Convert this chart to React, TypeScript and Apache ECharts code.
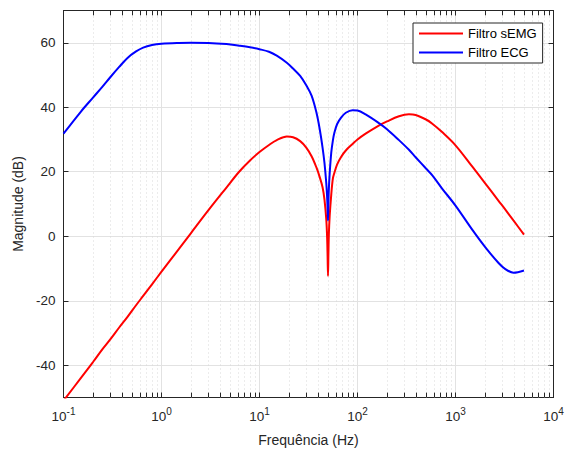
import React, { useEffect, useRef } from "react";
import * as echarts from "echarts";

const freqHz = [
  0.1, 0.15, 0.2, 0.25, 0.3, 0.37, 0.45, 0.55, 0.65, 0.8, 1, 1.5, 2, 3, 4.6, 6.2, 8, 10, 12.5, 15, 19, 22, 26, 30,
  34, 38, 41, 44, 46, 48, 49, 49.5, 50, 50.5, 51, 52, 54, 56, 58, 62, 68, 76, 89, 100, 121, 160, 200, 265, 335, 392,
  500, 580, 730, 1000, 1500, 2000, 2750, 3200, 3900, 5000,
];
const semgDb = [
  -51, -44, -39, -35, -32, -28.3, -25, -21.4, -18.5, -14.9, -11, -4, 1, 8, 15.1, 20, 23.5, 26.1, 28.3, 29.8, 30.9,
  30.7, 29.5, 27.5, 24.8, 21.4, 18.5, 15.2, 11.4, 5.3, -0.5, -6, -12.3, -5.5, 0.5, 6.2, 13, 17.8, 19.6, 22.3, 24.6,
  26.6, 28.6, 30, 31.8, 34.1, 35.6, 37.2, 37.8, 37.6, 36.2, 34.9, 32.3, 28.2, 21.4, 16.5, 11, 8.4, 4.9, 0.5,
];
const ecgDb = [
  31.8, 38.6, 43, 46.4, 49.3, 52.5, 55.3, 57.3, 58.5, 59.3, 59.7, 59.95, 60, 59.95, 59.6, 59.1, 58.6, 58, 57.2, 56,
  53.8, 52, 49.7, 46.8, 43.6, 38.5, 33.5, 27.5, 22.8, 16.5, 12, 8.8, 4.9, 10.3, 14.6, 19.5, 26, 29.6, 32, 34.8, 36.8,
  38.3, 39.1, 39, 37.8, 35.4, 33.2, 29.8, 26.8, 24.5, 21, 18.9, 14.8, 9.5, 1.8, -3.3, -8.3, -10.1, -11.3, -10.6,
];
const seriesNames = ["Filtro sEMG", "Filtro ECG"];
const xExponents = [-1, 0, 1, 2, 3, 4];
const xMin = 0.1;
const xMax = 10000;
const yMin = -50;
const yMax = 70;

const FONT = "'Liberation Sans', Arial, Helvetica, sans-serif";
const AXIS_COLOR = "#262626";

export default function App() {
  const ref = useRef<HTMLDivElement>(null);
  useEffect(() => {
    document.body.style.margin = "0";
    if (!ref.current) return;
    const chart = echarts.init(ref.current, undefined, { renderer: "svg" });

    const minorValues: number[] = [];
    for (let i = 0; i < xExponents.length - 1; i++) {
      for (let k = 2; k <= 9; k++) minorValues.push(k * Math.pow(10, xExponents[i]));
    }
    const tickLen = 1.5;
    const minorGrid: any[] = minorValues.map((v) => ({
      xAxis: v,
      lineStyle: { type: [1, 3], color: "#d8d8d8", width: 1 },
    }));
    const minorTicks: any[] = [];
    minorValues.forEach((v) => {
      minorTicks.push([
        { coord: [v, yMin], lineStyle: { type: "solid", color: AXIS_COLOR, width: 1 } },
        { coord: [v, yMin + tickLen] },
      ]);
      minorTicks.push([
        { coord: [v, yMax], lineStyle: { type: "solid", color: AXIS_COLOR, width: 1 } },
        { coord: [v, yMax - tickLen] },
      ]);
    });

    const expLabel = (v: number) => {
      const e = Math.round(Math.log10(v));
      return `{b|10}{s|${e}}`;
    };

    const axisLineStyle = { show: true, onZero: false, lineStyle: { color: AXIS_COLOR, width: 1 } };
    const tickStyle = { show: true, inside: true, length: 5, lineStyle: { color: AXIS_COLOR } };

    chart.setOption({
      animation: false,
      textStyle: { fontFamily: FONT },
      grid: {
        left: 63.5,
        right: 14.5,
        top: 10.5,
        bottom: 52.5,
        containLabel: false,
        outerBoundsMode: "none",
      },
      legend: {
        data: seriesNames,
        orient: "vertical",
        left: 413,
        top: 23,
        icon: "rect",
        itemWidth: 44,
        itemHeight: 2,
        itemGap: 6,
        padding: [4, 6, 4, 6],
        borderColor: AXIS_COLOR,
        borderWidth: 1,
        backgroundColor: "#fff",
        textStyle: { fontSize: 13, color: "#000", fontFamily: FONT },
        selectedMode: false,
      },
      xAxis: [
        {
          type: "log",
          logBase: 10,
          min: xMin,
          max: xMax,
          position: "bottom",
          axisLine: axisLineStyle,
          axisTick: tickStyle,
          axisLabel: {
            margin: 9,
            formatter: expLabel,
            rich: {
              b: { fontSize: 13.5, color: AXIS_COLOR, fontFamily: FONT },
              s: { fontSize: 10, color: AXIS_COLOR, fontFamily: FONT, padding: [0, 0, 9, 0] },
            },
          },
          splitLine: { show: true, lineStyle: { color: "#e2e2e2", width: 1 } },
          name: "Frequência (Hz)",
          nameLocation: "middle",
          nameGap: 35,
          nameTextStyle: { fontSize: 14, color: AXIS_COLOR, fontFamily: FONT },
        },
        {
          type: "log",
          logBase: 10,
          min: xMin,
          max: xMax,
          position: "top",
          axisLine: axisLineStyle,
          axisTick: tickStyle,
          axisLabel: { show: false },
          splitLine: { show: false },
        },
      ],
      yAxis: [
        {
          type: "value",
          min: yMin,
          max: yMax,
          position: "left",
          axisLine: axisLineStyle,
          axisTick: tickStyle,
          axisLabel: {
            margin: 8,
            fontSize: 13.5,
            color: AXIS_COLOR,
            fontFamily: FONT,
            showMinLabel: false,
            showMaxLabel: false,
          },
          splitLine: { show: true, lineStyle: { color: "#e2e2e2", width: 1 } },
          name: "Magnitude (dB)",
          nameLocation: "middle",
          nameGap: 31,
          nameTextStyle: { fontSize: 14, color: AXIS_COLOR, fontFamily: FONT },
        },
        {
          type: "value",
          min: yMin,
          max: yMax,
          position: "right",
          axisLine: axisLineStyle,
          axisTick: tickStyle,
          axisLabel: { show: false },
          splitLine: { show: false },
        },
      ],
      series: [
        {
          name: seriesNames[0],
          type: "line",
          data: freqHz.map((f, i) => [f, semgDb[i]]),
          showSymbol: false,
          symbol: "none",
          smooth: 0.35,
          lineStyle: { color: "#ff0000", width: 2 },
          itemStyle: { color: "#ff0000" },
          z: 3,
          markLine: {
            silent: true,
            z: 1,
            symbol: ["none", "none"],
            label: { show: false },
            emphasis: { disabled: true },
            data: [...minorGrid, ...minorTicks],
          },
        },
        {
          name: seriesNames[1],
          type: "line",
          data: freqHz.map((f, i) => [f, ecgDb[i]]),
          showSymbol: false,
          symbol: "none",
          smooth: 0.35,
          lineStyle: { color: "#0000ff", width: 2 },
          itemStyle: { color: "#0000ff" },
          z: 4,
        },
      ],
    });
    return () => chart.dispose();
  }, []);
  return <div ref={ref} style={{ width: 568, height: 450 }} />;
}
